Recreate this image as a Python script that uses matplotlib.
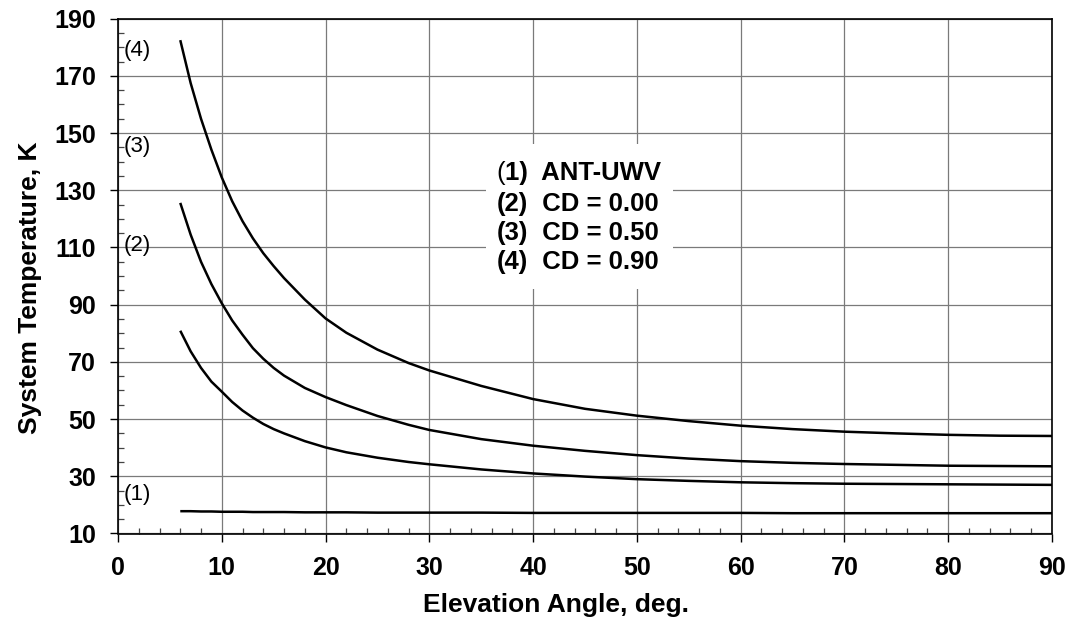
import matplotlib
matplotlib.use("Agg")
import matplotlib.pyplot as plt
from matplotlib.ticker import MultipleLocator, FixedLocator
from matplotlib.patches import Rectangle

plt.rcParams['font.family'] = ['Liberation Sans', 'DejaVu Sans']

# Data
elev = [6, 7, 8, 9, 10, 11, 12, 13, 14, 15, 16, 18, 20, 22, 25, 28, 30,
        35, 40, 45, 50, 55, 60, 65, 70, 75, 80, 85, 90]
t_ant_uwv = [17.8, 17.8, 17.7, 17.7, 17.6, 17.6, 17.6, 17.5, 17.5, 17.5, 17.5, 17.4, 17.4, 17.4,
             17.3, 17.3, 17.3, 17.3, 17.2, 17.2, 17.2, 17.2, 17.2, 17.1, 17.1, 17.1, 17.1, 17.1, 17.1]
t_cd000 = [80.9, 73.7, 67.9, 63.1, 59.6, 56.0, 53.0, 50.5, 48.3, 46.5, 45.0, 42.3, 40.1, 38.4,
           36.5, 35.0, 34.2, 32.4, 31.0, 29.9, 29.0, 28.4, 27.9, 27.6, 27.4, 27.3, 27.2, 27.1, 27.0]
t_cd050 = [125.6, 114.5, 105.0, 97.2, 90.5, 84.5, 79.5, 74.8, 71.1, 67.9, 65.2, 60.9, 57.7, 54.9,
           51.1, 48.0, 46.2, 43.0, 40.7, 38.9, 37.4, 36.2, 35.3, 34.7, 34.3, 34.0, 33.7, 33.6, 33.5]
t_cd090 = [182.5, 167.5, 155.0, 144.2, 134.5, 126.2, 119.2, 113.2, 108.0, 103.5, 99.3, 91.8, 85.2, 80.2,
           74.3, 69.6, 67.0, 61.6, 57.0, 53.6, 51.2, 49.3, 47.7, 46.5, 45.6, 45.0, 44.5, 44.2, 44.1]
series = [t_ant_uwv, t_cd000, t_cd050, t_cd090]

y_ticks = [10, 30, 50, 70, 90, 110, 130, 150, 170, 190]
curve_tags = ["(1)", "(2)", "(3)", "(4)"]
curve_tag_y = [23.8, 110.8, 145.2, 179.0]
legend_heads = ["(", "(2)", "(3)", "(4)"]
legend_tails = ["1)  ANT-UWV", "  CD = 0.00", "  CD = 0.50", "  CD = 0.90"]
legend_y = [136.0, 125.3, 114.9, 104.8]

fig = plt.figure(figsize=(10.71, 6.24), dpi=100)
ax = fig.add_axes([118/1071, 1 - 533.5/624, (1052-118)/1071, (533.5-18.7)/624])

for s in series:
    ax.plot(elev, s, color='black', lw=1.8, zorder=4, solid_capstyle='butt',
            solid_joinstyle='round')

ax.set_xlim(0, 90)
ax.set_ylim(10, 190)
ax.xaxis.set_major_locator(MultipleLocator(10))
ax.xaxis.set_minor_locator(MultipleLocator(2))
ax.yaxis.set_major_locator(FixedLocator(y_ticks))
ax.yaxis.set_minor_locator(MultipleLocator(5))
ax.grid(True, which='major', color='#7a7a7a', lw=0.9, zorder=1)

ax.tick_params(which='major', direction='out', length=6, width=1, color='black',
               labelsize=18, pad=10)
ax.tick_params(which='minor', direction='in', length=4.5, width=0.9, color='#444444')
for lab in ax.get_xticklabels() + ax.get_yticklabels():
    lab.set_fontweight('bold')

for sp in ax.spines.values():
    sp.set_color('black')
    sp.set_linewidth(1.2)

# white box behind legend text
ax.add_patch(Rectangle((35.5, 95.5), 18.0, 50.6, facecolor='white', edgecolor='none', zorder=2))
for i, (head, tail, y) in enumerate(zip(legend_heads, legend_tails, legend_y)):
    h = ax.text(36.5, y, head, fontsize=18.5, fontweight='normal' if i == 0 else 'bold',
                ha='left', va='center', zorder=5)
    ax.annotate(tail, xy=(1, 0), xycoords=h, fontsize=18.5, fontweight='bold',
                ha='left', va='bottom', zorder=5)

for tag, y in zip(curve_tags, curve_tag_y):
    ax.text(0.5, y, tag, fontsize=16, ha='left', va='center', zorder=5)

fig.text(556/1071, 1 - 605/624, "Elevation Angle, deg.", fontsize=19, fontweight='bold',
         ha='center', va='center')
fig.text(30/1071, 1 - 288/624, "System Temperature, K", fontsize=19, fontweight='bold',
         ha='center', va='center', rotation=90)

fig.savefig("out.png", dpi=100)
